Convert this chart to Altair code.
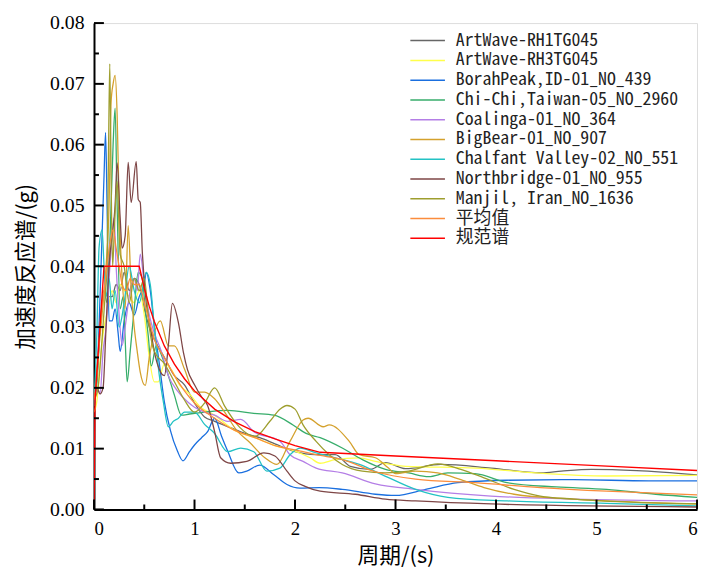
import altair as alt
import pandas as pd

# ---------------- data ----------------
NAMES = ["ArtWave-RH1TG045", "ArtWave-RH3TG045", "BorahPeak,ID-01_NO_439",
         "Chi-Chi,Taiwan-05_NO_2960", "Coalinga-01_NO_364", "BigBear-01_NO_907",
         "Chalfant Valley-02_NO_551", "Northbridge-01_NO_955", "Manjil, Iran_NO_1636",
         "平均值", "规范谱"]
COLORS = ["#666666", "#ffff4a", "#1a6fdf", "#37ad6b", "#b47ee6", "#d4a12d",
          "#23c2c4", "#7e4646", "#9e9e2e", "#fb8c3c", "#ff0000"]

T_RH1 = [0, 0.03, 0.06, 0.1, 0.14, 0.18, 0.22, 0.26, 0.3, 0.35, 0.4, 0.45, 0.5, 0.55, 0.6,
         0.7, 0.8, 0.9, 1.0, 1.1, 1.2, 1.35, 1.5, 1.65, 1.8, 2.0, 2.2, 2.4, 2.55, 2.75, 2.9,
         3.1, 3.45, 3.95, 4.45, 4.65, 4.95, 5.4, 6.0]
A_RH1 = [0.018, 0.022, 0.03, 0.036, 0.035, 0.035, 0.037, 0.036, 0.039, 0.036, 0.038, 0.037,
         0.033, 0.030, 0.028, 0.025, 0.022, 0.0205, 0.0175, 0.0152, 0.0145, 0.0135, 0.0125,
         0.0118, 0.0108, 0.0095, 0.009, 0.009, 0.0071, 0.0066, 0.0077, 0.0067, 0.0074, 0.0068,
         0.006, 0.0063, 0.0066, 0.0064, 0.0057]

T_RH3 = [0, 0.03, 0.06, 0.1, 0.14, 0.18, 0.22, 0.26, 0.3, 0.35, 0.4, 0.45, 0.5, 0.55, 0.6,
         0.64, 0.7, 0.77, 0.85, 0.95, 1.05, 1.2, 1.4, 1.6, 1.8, 2.0, 2.15, 2.25, 2.4, 2.64,
         2.8, 3.1, 3.8, 4.4, 5.1, 6.0]
A_RH3 = [0.016, 0.018, 0.024, 0.03, 0.033, 0.036, 0.034, 0.037, 0.036, 0.035, 0.034, 0.036,
         0.032, 0.025, 0.021, 0.021, 0.024, 0.023, 0.0205, 0.019, 0.017, 0.0155, 0.013,
         0.0118, 0.0105, 0.0096, 0.0085, 0.0076, 0.0082, 0.0085, 0.0079, 0.0071, 0.0068,
         0.006, 0.0055, 0.0056]

T_BORAH = [0, 0.03, 0.06, 0.08, 0.1, 0.115, 0.13, 0.15, 0.18, 0.21, 0.24, 0.26, 0.3, 0.35,
           0.4, 0.45, 0.5, 0.52, 0.56, 0.6, 0.65, 0.7, 0.76, 0.83, 0.885, 0.95, 1.0, 1.07,
           1.13, 1.2, 1.27, 1.33, 1.44, 1.52, 1.65, 1.79, 1.92, 2.05, 2.24, 2.47, 2.8, 3.0,
           3.3, 3.62, 4.11, 4.77, 5.52, 6.0]
A_BORAH = [0.018, 0.022, 0.035, 0.045, 0.055, 0.062, 0.05, 0.031, 0.031, 0.033, 0.029, 0.026,
           0.031, 0.034, 0.032, 0.035, 0.037, 0.039, 0.036, 0.03, 0.024, 0.0177, 0.013,
           0.0096, 0.008, 0.0095, 0.0106, 0.0118, 0.0128, 0.015, 0.012, 0.0096, 0.006, 0.0063,
           0.0073, 0.0057, 0.0041, 0.0035, 0.0036, 0.0033, 0.0025, 0.0023, 0.0033, 0.0044,
           0.0048, 0.0049, 0.0047, 0.0047]

T_CHICHI = [0, 0.03, 0.06, 0.1, 0.13, 0.16, 0.19, 0.21, 0.23, 0.26, 0.29, 0.31, 0.33, 0.36,
            0.4, 0.44, 0.48, 0.51, 0.54, 0.57, 0.62, 0.68, 0.74, 0.8, 0.87, 0.95, 1.1, 1.33,
            1.59, 1.79, 1.98, 2.11, 2.25, 2.47, 2.67, 2.9, 3.13, 3.33, 3.52, 3.79, 4.11, 4.6,
            5.1, 5.59, 6.0]
A_CHICHI = [0.018, 0.021, 0.03, 0.036, 0.034, 0.045, 0.06, 0.066, 0.05, 0.033, 0.035, 0.028,
            0.021, 0.026, 0.033, 0.039, 0.038, 0.033, 0.0285, 0.0236, 0.027, 0.025, 0.022,
            0.0188, 0.0155, 0.0157, 0.016, 0.0163, 0.0158, 0.0155, 0.0139, 0.0125, 0.0118,
            0.0101, 0.0082, 0.0066, 0.006, 0.0054, 0.006, 0.0059, 0.0044, 0.0037, 0.0033,
            0.0025, 0.002]

T_COAL = [0, 0.03, 0.06, 0.09, 0.12, 0.15, 0.18, 0.2, 0.22, 0.25, 0.28, 0.31, 0.35, 0.4,
          0.43, 0.46, 0.5, 0.55, 0.6, 0.67, 0.74, 0.83, 0.93, 1.0, 1.1, 1.2, 1.33, 1.46, 1.59,
          1.85, 1.95, 2.08, 2.21, 2.47, 2.8, 3.2, 3.95, 4.77, 6.0]
A_COAL = [0.018, 0.02, 0.019, 0.026, 0.03, 0.038, 0.045, 0.048, 0.04, 0.032, 0.027, 0.03,
          0.035, 0.038, 0.036, 0.042, 0.037, 0.032, 0.029, 0.026, 0.022, 0.0195, 0.0177,
          0.0168, 0.016, 0.0155, 0.0145, 0.0148, 0.0128, 0.0112, 0.009, 0.0079, 0.0068, 0.006,
          0.0042, 0.0033, 0.0022, 0.0017, 0.0014]

T_BIGBEAR = [0, 0.04, 0.08, 0.12, 0.15, 0.17, 0.19, 0.21, 0.23, 0.25, 0.28, 0.31, 0.34, 0.37,
             0.4, 0.43, 0.46, 0.51, 0.55, 0.6, 0.66, 0.74, 0.8, 0.9, 1.0, 1.1, 1.2, 1.3, 1.42,
             1.55, 1.7, 1.82, 1.95, 2.08, 2.13, 2.28, 2.34, 2.54, 2.64, 2.8, 2.93, 3.0, 3.2,
             3.42, 3.65, 3.88, 4.18, 4.77, 6.0]
A_BIGBEAR = [0.018, 0.025, 0.032, 0.04, 0.05, 0.067, 0.07, 0.0714, 0.065, 0.05, 0.038, 0.033,
             0.0467, 0.036, 0.03, 0.026, 0.0226, 0.0204, 0.025, 0.029, 0.031, 0.0269, 0.0269,
             0.0231, 0.0193, 0.0193, 0.0182, 0.016, 0.013, 0.011, 0.0085, 0.0074, 0.0112,
             0.0147, 0.015, 0.0136, 0.0139, 0.0112, 0.009, 0.0085, 0.0068, 0.0059, 0.0063,
             0.006, 0.0049, 0.0036, 0.0025, 0.0017, 0.0009]

T_CHALF = [0, 0.03, 0.05, 0.08, 0.1, 0.12, 0.15, 0.18, 0.21, 0.25, 0.3, 0.35, 0.4, 0.45,
           0.52, 0.56, 0.6, 0.65, 0.69, 0.74, 0.79, 0.84, 0.9, 1.0, 1.1, 1.2, 1.33, 1.46, 1.59,
           1.72, 1.85, 1.95, 2.05, 2.21, 2.4, 2.64, 2.87, 3.2, 3.52, 4.11, 5.1, 6.0]
A_CHALF = [0.017, 0.03, 0.043, 0.046, 0.04, 0.035, 0.038, 0.033, 0.036, 0.03, 0.034, 0.04,
           0.036, 0.034, 0.039, 0.037, 0.03, 0.022, 0.0177, 0.0136, 0.0145, 0.015, 0.016,
           0.016, 0.014, 0.0125, 0.0095, 0.0101, 0.0095, 0.0063, 0.0068, 0.009, 0.0101, 0.0093,
           0.0085, 0.0074, 0.0057, 0.0033, 0.002, 0.0014, 0.001, 0.0006]

T_NORTH = [0, 0.03, 0.06, 0.09, 0.12, 0.15, 0.18, 0.21, 0.23, 0.26, 0.28, 0.31, 0.34, 0.37,
           0.42, 0.44, 0.46, 0.48, 0.52, 0.56, 0.6, 0.65, 0.7, 0.74, 0.78, 0.84, 0.89, 0.93,
           1.0, 1.07, 1.13, 1.2, 1.26, 1.36, 1.52, 1.69, 1.8, 1.92, 2.0, 2.1, 2.25, 2.6, 2.9,
           3.2, 3.95, 6.0]
A_NORTH = [0.018, 0.02, 0.019, 0.02, 0.03, 0.04, 0.045, 0.05, 0.057, 0.048, 0.043, 0.045,
           0.0571, 0.0505, 0.0572, 0.051, 0.0505, 0.0426, 0.034, 0.03, 0.026, 0.023, 0.022,
           0.027, 0.0339, 0.0307, 0.0258, 0.023, 0.0205, 0.0185, 0.0171, 0.0128, 0.0085,
           0.0076, 0.0079, 0.0093, 0.0088, 0.0063, 0.0047, 0.0038, 0.003, 0.0025, 0.0017,
           0.0014, 0.0009, 0.0004]

T_MANJIL = [0, 0.04, 0.08, 0.11, 0.13, 0.145, 0.157, 0.17, 0.185, 0.2, 0.23, 0.26, 0.3, 0.35,
            0.4, 0.45, 0.5, 0.55, 0.6, 0.7, 0.8, 0.9, 1.0, 1.1, 1.2, 1.3, 1.45, 1.6, 1.75,
            1.85, 1.92, 2.0, 2.08, 2.21, 2.34, 2.47, 2.67, 2.9, 3.13, 3.42, 3.65, 3.88, 4.18,
            4.44, 4.77, 6.0]
A_MANJIL = [0.018, 0.02, 0.028, 0.035, 0.04, 0.06, 0.0733, 0.055, 0.04, 0.045, 0.054, 0.042,
            0.04, 0.034, 0.038, 0.036, 0.038, 0.03, 0.026, 0.024, 0.021, 0.018, 0.016, 0.0175,
            0.02, 0.017, 0.0135, 0.012, 0.0145, 0.0165, 0.0171, 0.0165, 0.0139, 0.0112, 0.009,
            0.0074, 0.0063, 0.006, 0.0063, 0.0075, 0.0066, 0.0052, 0.0033, 0.0022, 0.0017,
            0.0009]

T_MEAN = [0, 0.03, 0.06, 0.1, 0.13, 0.16, 0.19, 0.22, 0.25, 0.28, 0.32, 0.36, 0.4, 0.45, 0.5,
          0.55, 0.6, 0.7, 0.8, 0.9, 1.0, 1.2, 1.4, 1.6, 1.82, 2.0, 2.21, 2.47, 2.8, 3.2, 3.79,
          4.44, 5.1, 6.0]
A_MEAN = [0.018, 0.022, 0.03, 0.036, 0.04, 0.044, 0.046, 0.043, 0.04, 0.037, 0.036, 0.038,
          0.037, 0.037, 0.034, 0.031, 0.028, 0.025, 0.022, 0.0195, 0.0175, 0.015, 0.013,
          0.0118, 0.0104, 0.0098, 0.009, 0.0082, 0.0062, 0.005, 0.0044, 0.0036, 0.003, 0.0024]

T_CODE = [0, 0.01, 0.1, 0.45, 0.5, 0.55, 0.6, 0.7, 0.8, 0.9, 1.0, 1.2, 1.4, 1.6, 1.8, 2.0,
          2.25, 3.0, 4.0, 5.0, 6.0]
A_CODE = [0, 0.018, 0.04, 0.04, 0.0364, 0.0334, 0.0309, 0.0269, 0.0239, 0.0215, 0.0195,
          0.0165, 0.0144, 0.0128, 0.0116, 0.0105, 0.0094, 0.0088, 0.0080, 0.0072, 0.0064]

X_MAJOR = [0, 1, 2, 3, 4, 5, 6]
X_MINOR = [0.5, 1.5, 2.5, 3.5, 4.5, 5.5]
Y_MAJOR = [0, 0.01, 0.02, 0.03, 0.04, 0.05, 0.06, 0.07, 0.08]
Y_MINOR = [0.005, 0.015, 0.025, 0.035, 0.045, 0.055, 0.065, 0.075]

SERIES = [(T_RH1, A_RH1), (T_RH3, A_RH3), (T_BORAH, A_BORAH), (T_CHICHI, A_CHICHI),
          (T_COAL, A_COAL), (T_BIGBEAR, A_BIGBEAR), (T_CHALF, A_CHALF), (T_NORTH, A_NORTH),
          (T_MANJIL, A_MANJIL), (T_MEAN, A_MEAN), (T_CODE, A_CODE)]

rows = []
for i, (name, (ts, As)) in enumerate(zip(NAMES, SERIES)):
    assert len(ts) == len(As), name
    for t, a in zip(ts, As):
        rows.append({"T": t, "A": a, "name": name, "k": i})
df = pd.DataFrame(rows)
spec_df = df[df["name"] != "规范谱"]
code_df = df[df["name"] == "规范谱"]

W, H = 610, 492
xs = alt.Scale(domain=[0, 6], nice=False, zero=False)
ys = alt.Scale(domain=[0, 0.08], nice=False)

LBL_FONT = "Liberation Serif, DejaVu Serif, serif"
CJK_FONT = "Noto Sans CJK SC"
MONO_FONT = "Noto Sans Mono CJK SC, Liberation Mono, monospace"

x_axis = alt.Axis(values=X_MAJOR, format="d", title="周期/(s)", tickSize=0,
                  domainColor="black", domainWidth=2, labelPadding=10,
                  labelFont=LBL_FONT, labelFontSize=19, labelColor="black",
                  titleFont=CJK_FONT, titleFontSize=22, titleFontWeight="normal",
                  titleColor="black", titleY=47, titleBaseline="middle", grid=False)
y_axis = alt.Axis(values=Y_MAJOR, format=".2f", title="加速度反应谱/(g)", tickSize=0,
                  domainColor="black", domainWidth=2, labelPadding=10,
                  labelFont=LBL_FONT, labelFontSize=20, labelColor="black",
                  titleFont=CJK_FONT, titleFontSize=22, titleFontWeight="normal",
                  titleColor="black", titleX=-69, titleBaseline="middle", grid=False)
color_enc = alt.Color("name:N", sort=NAMES,
                      scale=alt.Scale(domain=NAMES, range=COLORS),
                      legend=alt.Legend(title=None, orient="none", legendX=319, legendY=8,
                                        symbolType="stroke", symbolSize=1225,
                                        symbolStrokeWidth=1.5, clipHeight=19.5,
                                        rowPadding=0, labelOffset=10,
                                        labelFont=MONO_FONT, labelFontSize=18,
                                        labelColor="#222222", labelLimit=400,
                                        padding=0))

spectra = alt.Chart(spec_df).mark_line(strokeWidth=1.3, clip=True,
                                       interpolate="monotone").encode(
    x=alt.X("T:Q", scale=xs, axis=x_axis),
    y=alt.Y("A:Q", scale=ys, axis=y_axis),
    color=color_enc,
    order=alt.Order("k:Q"),
    detail="name:N",
)
code = alt.Chart(code_df).mark_line(strokeWidth=1.4, clip=True).encode(
    x=alt.X("T:Q", scale=xs),
    y=alt.Y("A:Q", scale=ys),
    color=color_enc,
)

tick_x_major = alt.Chart(pd.DataFrame({"T": X_MAJOR})).mark_rule(
    color="black", strokeWidth=2).encode(
    x=alt.X("T:Q", scale=xs), y=alt.value(H), y2=alt.value(H - 10))
tick_x_minor = alt.Chart(pd.DataFrame({"T": X_MINOR})).mark_rule(
    color="black", strokeWidth=2).encode(
    x=alt.X("T:Q", scale=xs), y=alt.value(H), y2=alt.value(H - 5))
tick_y_major = alt.Chart(pd.DataFrame({"A": Y_MAJOR})).mark_rule(
    color="black", strokeWidth=2).encode(
    y=alt.Y("A:Q", scale=ys), x=alt.value(0), x2=alt.value(10))
tick_y_minor = alt.Chart(pd.DataFrame({"A": Y_MINOR})).mark_rule(
    color="black", strokeWidth=2).encode(
    y=alt.Y("A:Q", scale=ys), x=alt.value(0), x2=alt.value(5))

chart = alt.layer(spectra, code, tick_x_major, tick_x_minor, tick_y_major,
                  tick_y_minor).properties(
    width=W, height=H,
    autosize=alt.AutoSizeParams(type="none"),
    padding={"left": 87, "top": 12, "right": 3, "bottom": 57},
).configure_view(stroke=None).configure(background="white")

chart.save("out.html", embed_options={"renderer": "svg", "actions": False})
